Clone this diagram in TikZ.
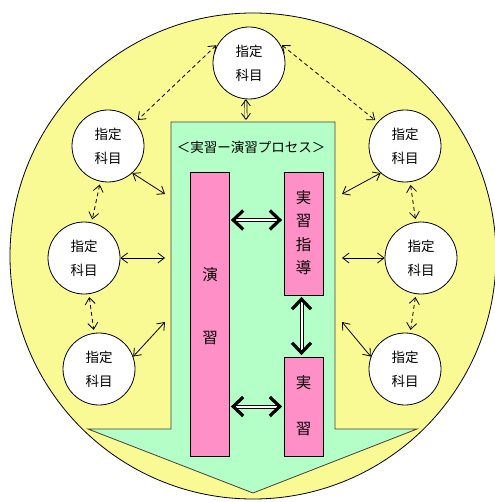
\documentclass[tikz,border=0pt]{standalone}
\usepackage{fontspec}
\newfontfamily\jp{Noto Sans CJK JP}
\usetikzlibrary{arrows.meta}
\definecolor{bgyellow}{RGB}{250,250,148}
\definecolor{procgreen}{RGB}{180,255,200}
\definecolor{boxpink}{RGB}{255,143,199}

\begin{document}
\begin{tikzpicture}[x=1pt,y=-1pt,
  subject/.style={circle,draw,fill=white,line width=0.8pt,minimum size=72pt,
    inner sep=0pt,align=center,font=\jp\fontsize{13.5}{24}\selectfont},
  pinkbox/.style={draw,fill=boxpink,line width=0.8pt,minimum width=39pt,inner sep=0pt},
  boxtext/.style={font=\jp\fontsize{15.5}{15.5}\selectfont,inner sep=0pt},
  link/.style={line width=0.8pt,
    {Straight Barb[length=6.5pt,width=10pt]}-{Straight Barb[length=6.5pt,width=10pt]}},
  peer/.style={link,dash pattern=on 4pt off 3pt,shorten <=3pt,shorten >=3pt},
  flow/.style={line width=1pt,double=white,double distance=2pt,shorten <=1.5pt,shorten >=1.5pt,
    {Straight Barb[length=10pt,width=19pt,line width=3.2pt]}-{Straight Barb[length=10pt,width=19pt,line width=3.2pt]}},
  uplink/.style={line width=0.6pt,double=bgyellow,double distance=1.6pt,
    {Straight Barb[length=6pt,width=9pt,line width=0.8pt]}-{Straight Barb[length=6pt,width=9pt,line width=0.8pt]}}
]
\useasboundingbox (0,0) rectangle (494,502);

% outer field
\draw[fill=bgyellow,line width=0.8pt] (253,256) circle[radius=243pt];

% process arrow
\draw[fill=procgreen,draw=black!75,line width=0.8pt]
  (171,122) -- (335,122) -- (335,429) -- (417,429) -- (253,493)
  -- (88,429) -- (171,429) -- cycle;
\node[font=\jp\fontsize{13.5}{13.5}\selectfont,inner sep=0pt] (title) at (251,147) {＜実習ー演習プロセス＞};

% process boxes
\node[pinkbox,minimum height=284pt] (ens) at (209.5,314) {};
\node[boxtext] (ens1) at (210,275) {演};
\node[boxtext] (ens2) at (210,338) {習};

\node[pinkbox,minimum height=123pt] (shido) at (303.5,233.5) {};
\node[boxtext] (sh1) at (303.5,198) {実};
\node[boxtext] (sh2) at (303.5,221) {習};
\node[boxtext] (sh3) at (303.5,245) {指};
\node[boxtext] (sh4) at (303.5,268) {導};

\node[pinkbox,minimum height=99pt] (jis) at (303.5,406.5) {};
\node[boxtext] (js1) at (303.5,383) {実};
\node[boxtext] (js2) at (303.5,429) {習};

% subject circles
\node[subject] (top) at (249,63) {指定\\科目};
\node[subject] (ul) at (108,146) {指定\\科目};
\node[subject] (ml) at (84,258) {指定\\科目};
\node[subject] (ll) at (99,369) {指定\\科目};
\node[subject] (ur) at (405,146) {指定\\科目};
\node[subject] (mr) at (421,258) {指定\\科目};
\node[subject] (lr) at (405,369) {指定\\科目};

% ends on the process arrow
\coordinate (ptop) at (246,120);
\coordinate (pl1) at (165,194);
\coordinate (pl2) at (165,258);
\coordinate (pl3) at (165,322);
\coordinate (pr1) at (342,194);
\coordinate (pr2) at (342,258);
\coordinate (pr3) at (342,322);
\coordinate (row1) at (0,220);

% links between subjects
\draw[peer] (top.147) -- (ul.41);
\draw[peer] (top.33) -- (ur.139);
\draw[peer] (ul) -- (ml);
\draw[peer] (ml) -- (ll);
\draw[peer] (ur) -- (mr);
\draw[peer] (mr) -- (lr);

% links from subjects to the process
\draw[uplink] (top.-95) -- (ptop);
\draw[link] (ul.-48) -- (pl1);
\draw[link] (ml.0) -- (pl2);
\draw[link] (ll.20) -- (pl3);
\draw[link] (ur.-132) -- (pr1);
\draw[link] (mr.180) -- (pr2);
\draw[link] (lr.160) -- (pr3);

% links inside the process
\draw[flow] (ens.east |- row1) -- (shido.west |- row1);
\draw[flow] ([xshift=-2pt]shido.south) -- ([xshift=-2pt]jis.north);
\draw[flow] (ens.east |- jis.west) -- (jis.west);
\end{tikzpicture}
\end{document}
